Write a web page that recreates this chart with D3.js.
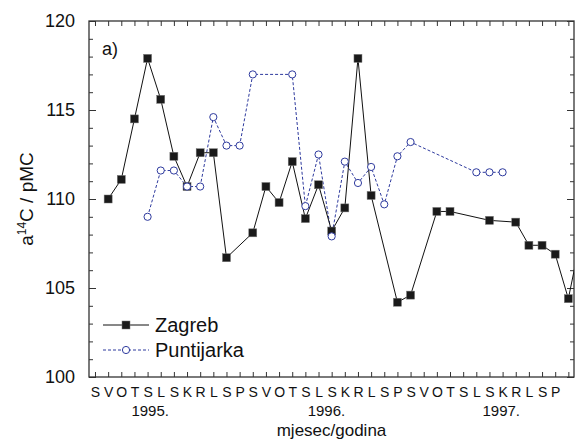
<!DOCTYPE html>
<html>
<head>
<meta charset="utf-8">
<script src="https://cdn.jsdelivr.net/npm/d3@7"></script>
<style>
  html, body { margin: 0; padding: 0; background: #fff; }
  svg { display: block; font-family: "Liberation Sans", Arial, Helvetica, sans-serif; }
</style>
</head>
<body>
<svg id="chart" width="578" height="443"></svg>
<script>
// ---- data ----
const monthLabels = ["S","V","O","T","S","L","S","K","R","L","S","P",
                     "S","V","O","T","S","L","S","K","R","L","S","P",
                     "S","V","O","T","S","L","S","K","R","L","S","P"];
const yearLabels = ["1995.", "1996.", "1997."];
const yearPositions = [4.2, 17.6, 30.9];
const yTicks = [100, 105, 110, 115, 120];

// month index: 0 = January 1995
const zagrebMonths = [1,2,3,4,5,6,7,8,9,10,12,13,14,15,16,17,18,19,20,21,23,24,26,27,30,32,33,34,35,36,37];
const zagrebValues = [110.0,111.1,114.5,117.9,115.6,112.4,110.7,112.6,112.6,106.7,108.1,110.7,109.8,112.1,108.9,110.8,108.2,109.5,117.9,110.2,104.2,104.6,109.3,109.3,108.8,108.7,107.4,107.4,106.9,104.4,108.0];

const puntijarkaMonths = [4,5,6,7,8,9,10,11,12,15,16,17,18,19,20,21,22,23,24,29,30,31];
const puntijarkaValues = [109.0,111.6,111.6,110.7,110.7,114.6,113.0,113.0,117.0,117.0,109.6,112.5,107.9,112.1,110.9,111.8,109.7,112.4,113.2,111.5,111.5,111.5];

// ---- layout ----
const L = 89, R = 574, T = 21, B = 377;
const svg = d3.select("#chart");
const x = d3.scaleLinear().domain([-0.456, 36.43]).range([L, R]);
const y = d3.scaleLinear().domain([100, 120]).range([B, T]);
const axisColor = "#333";
const blue = "#2e3a9e";

const zagreb = zagrebMonths.map((m, i) => ({m, v: zagrebValues[i]}));
const punt = puntijarkaMonths.map((m, i) => ({m, v: puntijarkaValues[i]}));

svg.append("defs").append("clipPath").attr("id", "plotclip")
  .append("rect").attr("x", L).attr("y", T).attr("width", R - L).attr("height", B - T);

// ---- axes ----
const monthTicks = d3.range(0, 37);
const minorY = d3.range(100, 121, 1);

function styleAxis(g) {
  g.select(".domain").remove();
  g.selectAll(".tick line").attr("stroke", axisColor).attr("stroke-width", 1);
}

// bottom
const gB = svg.append("g").attr("transform", `translate(0,${B})`)
  .call(d3.axisBottom(x).tickValues(monthTicks).tickSizeInner(-5).tickSizeOuter(0)
    .tickPadding(10).tickFormat(d => monthLabels[d] || ""));
styleAxis(gB);
gB.selectAll(".tick text").attr("font-size", 14).attr("fill", "#111")
  .attr("font-family", "Liberation Sans, Arial, sans-serif");

// top
const gT = svg.append("g").attr("transform", `translate(0,${T})`)
  .call(d3.axisTop(x).tickValues(monthTicks).tickSizeInner(-5).tickSizeOuter(0).tickFormat(""));
styleAxis(gT);

// left minor + major
const gLm = svg.append("g").attr("transform", `translate(${L},0)`)
  .call(d3.axisLeft(y).tickValues(minorY.filter(v => v % 5 !== 0)).tickSizeInner(-4).tickSizeOuter(0).tickFormat(""));
styleAxis(gLm);
const gL = svg.append("g").attr("transform", `translate(${L},0)`)
  .call(d3.axisLeft(y).tickValues(yTicks).tickSizeInner(-7).tickSizeOuter(0).tickPadding(14).tickFormat(d3.format("d")));
styleAxis(gL);
gL.selectAll(".tick text").attr("font-size", 18).attr("fill", "#111")
  .attr("font-family", "Liberation Sans, Arial, sans-serif");

// right
const gRm = svg.append("g").attr("transform", `translate(${R},0)`)
  .call(d3.axisRight(y).tickValues(minorY.filter(v => v % 5 !== 0)).tickSizeInner(-4).tickSizeOuter(0).tickFormat(""));
styleAxis(gRm);
const gR = svg.append("g").attr("transform", `translate(${R},0)`)
  .call(d3.axisRight(y).tickValues(yTicks).tickSizeInner(-7).tickSizeOuter(0).tickFormat(""));
styleAxis(gR);

// frame
svg.append("rect").attr("x", L).attr("y", T).attr("width", R - L).attr("height", B - T)
  .attr("fill", "none").attr("stroke", axisColor).attr("stroke-width", 1.3);

// year labels
svg.append("g").selectAll("text").data(yearLabels).join("text")
  .attr("x", (d, i) => x(yearPositions[i])).attr("y", 416)
  .attr("text-anchor", "middle").attr("font-size", 15).attr("fill", "#111")
  .text(d => d);

// axis titles
svg.append("text").attr("x", (L + R) / 2).attr("y", 436).attr("text-anchor", "middle")
  .attr("font-size", 17).attr("fill", "#111").text("mjesec/godina");

const yt = svg.append("text").attr("transform", `translate(33,${(T + B) / 2}) rotate(-90)`)
  .attr("text-anchor", "middle").attr("font-size", 19).attr("fill", "#111");
yt.append("tspan").text("a");
yt.append("tspan").attr("font-size", 12).attr("dy", -7).text("14");
yt.append("tspan").attr("dy", 7).text("C / pMC");

// panel label
svg.append("text").attr("x", 102).attr("y", 55).attr("font-size", 18).attr("fill", "#111").text("a)");

// ---- series ----
const plot = svg.append("g").attr("clip-path", "url(#plotclip)");
const line = d3.line().x(d => x(d.m)).y(d => y(d.v));

plot.append("path").datum(punt).attr("d", line)
  .attr("fill", "none").attr("stroke", blue).attr("stroke-width", 1).attr("stroke-dasharray", "3,2");
plot.append("path").datum(zagreb).attr("d", line)
  .attr("fill", "none").attr("stroke", "#111").attr("stroke-width", 1);

const sq = 8;
plot.selectAll("rect.z").data(zagreb).join("rect").attr("class", "z")
  .attr("x", d => x(d.m) - sq / 2).attr("y", d => y(d.v) - sq / 2)
  .attr("width", sq).attr("height", sq)
  .attr("fill", "#1a1a1a").attr("stroke", "#777").attr("stroke-width", 0.5);

plot.selectAll("circle.p").data(punt).join("circle").attr("class", "p")
  .attr("cx", d => x(d.m)).attr("cy", d => y(d.v)).attr("r", 3.6)
  .attr("fill", "#fff").attr("stroke", blue).attr("stroke-width", 1);

// ---- legend ----
const lg = svg.append("g");
lg.append("line").attr("x1", 103).attr("x2", 149).attr("y1", 325).attr("y2", 325)
  .attr("stroke", "#111").attr("stroke-width", 1);
lg.append("rect").attr("x", 126 - sq / 2).attr("y", 325 - sq / 2).attr("width", sq).attr("height", sq)
  .attr("fill", "#1a1a1a").attr("stroke", "#777").attr("stroke-width", 0.5);
lg.append("text").attr("x", 155).attr("y", 332).attr("font-size", 20).attr("fill", "#111").text("Zagreb");

lg.append("line").attr("x1", 103).attr("x2", 149).attr("y1", 350).attr("y2", 350)
  .attr("stroke", blue).attr("stroke-width", 1).attr("stroke-dasharray", "3,2");
lg.append("circle").attr("cx", 126).attr("cy", 350).attr("r", 3.6)
  .attr("fill", "#fff").attr("stroke", blue).attr("stroke-width", 1);
lg.append("text").attr("x", 155).attr("y", 357).attr("font-size", 20).attr("fill", "#111").text("Puntijarka");
</script>
</body>
</html>
